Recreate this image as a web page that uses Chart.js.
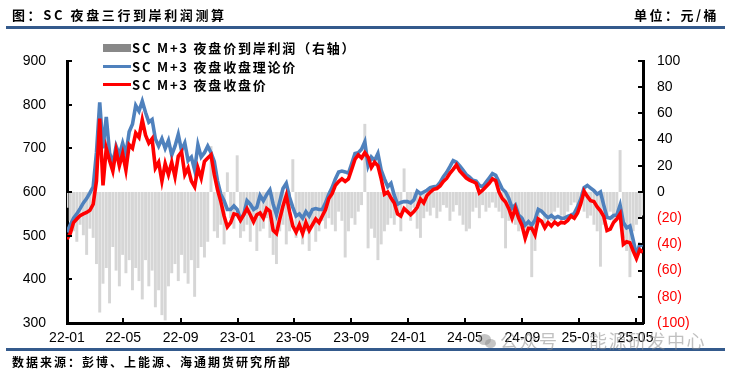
<!DOCTYPE html>
<html><head><meta charset="utf-8">
<script src="https://cdn.jsdelivr.net/npm/chart.js@4.4.0/dist/chart.umd.min.js"></script>
<style>
html,body{margin:0;padding:0;background:#fff;}
#wrap{position:relative;width:731px;height:375px;overflow:hidden;font-family:"Noto Sans CJK SC",sans-serif;}
#c{position:absolute;left:0;top:0;}
.t{position:absolute;white-space:nowrap;color:#000;font-weight:bold;line-height:1;}
.rule{position:absolute;left:6px;width:719px;height:3px;background:#345a8c;}
.sw{position:absolute;left:103px;width:28px;}
.wm{position:absolute;white-space:nowrap;color:rgba(140,140,140,0.55);font-size:18px;line-height:1;letter-spacing:1.5px;}
</style></head>
<body><div id="wrap">
<canvas id="c" width="731" height="375"></canvas>
<div class="t" style="left:12px;top:8px;font-size:13px;letter-spacing:2.6px;">图：SC 夜盘三行到岸利润测算</div>
<div class="t" style="right:12px;top:8px;font-size:13px;letter-spacing:2.5px;">单位：元/桶</div>
<div class="rule" style="top:26px;"></div>
<div class="sw" style="top:44px;height:8px;background:#888;"></div>
<div class="sw" style="top:65px;height:3px;background:#4f81bd;"></div>
<div class="sw" style="top:83px;height:3px;background:#ff0000;"></div>
<div class="t" style="left:132px;top:41px;font-size:13px;letter-spacing:1.8px;">SC M+3 夜盘价到岸利润（右轴）</div>
<div class="t" style="left:132px;top:59.5px;font-size:13px;letter-spacing:1.8px;">SC M+3 夜盘收盘理论价</div>
<div class="t" style="left:132px;top:77.5px;font-size:13px;letter-spacing:1.8px;">SC M+3 夜盘收盘价</div>
<div class="rule" style="top:348px;"></div>
<div class="t" style="left:12px;top:356px;font-size:12px;letter-spacing:2px;">数据来源：彭博、上能源、海通期货研究所部</div>
<div style="position:absolute;left:478px;top:334px;width:13px;height:11px;border-radius:50%;background:rgba(140,140,140,0.5);"></div>
<div style="position:absolute;left:485px;top:339px;width:11px;height:9px;border-radius:50%;background:rgba(140,140,140,0.5);"></div>
<div class="wm" style="left:500px;top:331px;">公众号 · 能源研发中心</div>
</div>
<script>
// x-axis tick labels and their day offsets from 2022-01-01
const tickLabels = ['22-01','22-05','22-09','23-01','23-05','23-09','24-01','24-05','24-09','25-01','25-05'];
const tickDays = [0,120,243,365,485,608,730,851,974,1096,1216];

// weekly readings, week 0 = first week of 2022-01
const theory = [
 508,525,540,550,562,575,585,598,612,690,
 805,700,772,690,665,705,685,712,686,738,
 755,798,785,808,782,760,766,722,705,722,
 700,718,685,705,732,695,712,672,680,650,
 708,680,690,705,690,670,625,595,580,560,
 560,568,560,538,548,580,572,560,565,592,
 580,594,605,572,548,578,608,620,588,565,
 545,550,540,555,545,560,562,560,560,575,
 595,610,630,646,648,646,643,665,688,690,
 698,715,660,680,672,688,650,630,612,620,
 592,572,576,578,578,575,582,602,596,600,
 604,610,612,613,622,635,645,658,672,668,
 660,650,640,634,627,625,615,612,622,632,
 642,638,623,607,600,585,563,570,547,540,
 524,532,524,536,560,556,548,541,546,540,
 544,540,540,544,547,551,566,584,610,615,
 609,603,595,600,570,542,540,546,547,570,
 530,518,522,490,455,480,478
];
const closePrice = [
 492,505,530,538,546,550,553,558,572,625,
 768,615,700,672,648,695,660,688,650,708,
 700,735,725,765,730,712,722,655,668,625,
 665,640,668,635,682,692,640,655,625,612,
 655,632,670,678,685,640,605,578,545,520,
 530,550,548,535,548,562,548,532,548,552,
 540,562,556,512,505,538,568,592,555,522,
 508,525,505,530,512,525,538,530,545,560,
 585,596,615,624,630,624,630,652,675,685,
 678,690,680,656,668,660,630,595,600,586,
 575,550,545,562,555,548,555,565,584,575,
 592,600,606,608,614,624,631,643,652,662,
 648,640,632,627,624,620,598,604,612,620,
 630,626,600,585,577,562,540,563,540,524,
 494,517,517,502,538,533,518,530,522,531,
 525,531,529,535,545,540,552,574,602,590,
 580,578,566,557,544,512,515,530,538,550,
 480,486,484,465,448,468,462
];
const profit = [
 -12,-22,-30,-38,-25,-33,-48,-28,-35,-55,
 -92,-70,-58,-85,-42,-60,-72,-48,-62,-52,
 -75,-58,-68,-82,-52,-72,-60,-88,-75,-94,
 -98,-72,-62,-55,-68,-48,-62,-70,-52,-80,
 -58,-42,-50,-38,35,-30,-35,-25,-40,15,
 -20,-28,28,-35,-30,-25,-38,-22,-45,-30,
 -28,-20,-35,-48,-55,-30,-25,-40,-30,25,
 -35,-28,-40,-30,-45,-25,-38,-30,-22,-28,
 -20,-25,-30,-15,-22,-50,-30,-20,-25,-15,
 -10,52,-43,-28,-35,-52,-40,-30,-25,-20,
 -25,-18,-30,18,-15,-22,-12,-28,-35,-20,
 -15,-18,-12,-20,-15,-10,-12,-22,-15,-10,
 -18,-25,-30,-28,-15,-12,-20,-10,-15,-12,
 -8,-12,-15,-20,-43,-22,-18,-25,-30,-28,
 -35,-30,-65,-45,-20,-15,-25,-18,-22,-15,
 -12,-18,-20,-15,-10,-8,-12,-5,-15,-20,
 -18,-25,-30,-57,-25,-20,-15,-22,-18,32,
 -35,-45,-65,-30,-25,-20,-18
];
const weeks = theory.map((_, i) => i);

const toPts = arr => arr.map((v, i) => ({x: weeks[i], y: v}));

const innerTicks = {
  id: 'innerTicks',
  afterDraw(chart) {
    const {ctx, chartArea: a, scales} = chart;
    ctx.save();
    ctx.strokeStyle = '#000';
    ctx.lineWidth = 2;
    ctx.beginPath();
    scales.y.ticks.forEach(t => {
      const y = Math.round(scales.y.getPixelForValue(t.value));
      ctx.moveTo(a.left, y); ctx.lineTo(a.left + 5, y);
    });
    scales.y1.ticks.forEach(t => {
      const y = Math.round(scales.y1.getPixelForValue(t.value));
      ctx.moveTo(a.right, y); ctx.lineTo(a.right - 5, y);
    });
    scales.x.ticks.forEach(t => {
      const x = Math.round(scales.x.getPixelForValue(t.value));
      ctx.moveTo(x, a.bottom); ctx.lineTo(x, a.bottom - 5);
    });
    ctx.stroke();
    ctx.restore();
  }
};

const tickFont = {family: 'Liberation Sans', size: 14};

new Chart(document.getElementById('c'), {
  type: 'bar',
  data: {
    datasets: [
      {type: 'line', label: 'SC M+3 夜盘收盘价', data: toPts(closePrice), borderColor: '#ff0000', borderWidth: 3.6, pointRadius: 0, tension: 0, yAxisID: 'y', order: 0},
      {type: 'line', label: 'SC M+3 夜盘收盘理论价', data: toPts(theory), borderColor: '#4f81bd', borderWidth: 3.6, pointRadius: 0, tension: 0, yAxisID: 'y', order: 1},
      {type: 'bar', label: 'SC M+3 夜盘价到岸利润（右轴）', data: toPts(profit), backgroundColor: '#d6d6d6', yAxisID: 'y1', order: 2, barPercentage: 0.9, categoryPercentage: 1}
    ]
  },
  options: {
    responsive: false, animation: false, devicePixelRatio: 1,
    layout: {padding: {top: 61, left: 0, right: 0, bottom: 0}},
    plugins: {legend: {display: false}, tooltip: {enabled: false}},
    scales: {
      x: {
        type: 'linear', min: 0, max: 176, offset: false,
        grid: {display: false, drawTicks: false},
        border: {display: true, color: '#000', width: 3},
        afterBuildTicks: s => { s.ticks = tickDays.map(d => ({value: d / 7})); },
        afterFit: s => { s.height = 52; },
        ticks: {autoSkip: false, maxRotation: 0, padding: 7, color: '#000', font: tickFont,
                callback: (v, i) => tickLabels[i]}
      },
      y: {
        position: 'left', min: 300, max: 900,
        grid: {display: false, drawTicks: false},
        border: {display: true, color: '#000', width: 3},
        afterFit: s => { s.width = 67; },
        ticks: {stepSize: 100, padding: 21, color: '#000', font: tickFont}
      },
      y1: {
        position: 'right', min: -100, max: 100,
        grid: {display: false, drawTicks: false},
        border: {display: true, color: '#000', width: 3},
        afterFit: s => { s.width = 88; },
        ticks: {stepSize: 20, padding: 14, font: tickFont,
                color: c => (c.tick && c.tick.value < 0) ? '#ff0000' : '#000',
                callback: v => v < 0 ? '(' + (-v) + ')' : String(v)}
      }
    }
  },
  plugins: [innerTicks]
});
</script>
</body></html>
